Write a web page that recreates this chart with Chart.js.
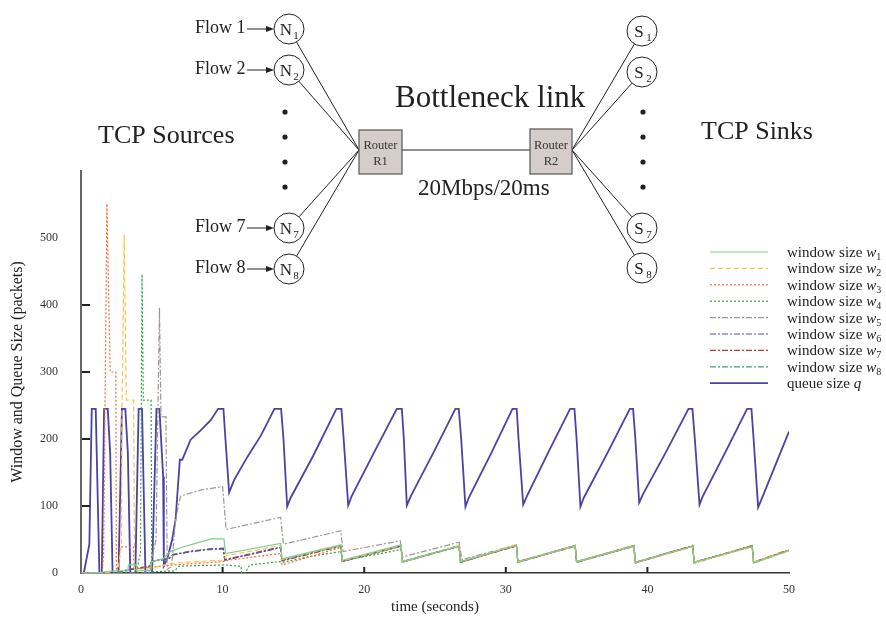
<!DOCTYPE html>
<html>
<head>
<meta charset="utf-8">
<script src="https://cdn.jsdelivr.net/npm/chart.js@4/dist/chart.umd.min.js"></script>
<style>
  html, body { margin: 0; padding: 0; background: #fff; }
  #wrap { width: 886px; height: 618px; }
</style>
</head>
<body>
<div id="wrap"><canvas id="tcpChart" width="886" height="618"></canvas></div>
<script>
// time (s), value (packets)
const windowW1 = [[0,0],[1.4,1],[2.2,3],[3.3,3],[3.35,12],[3.9,12],[3.95,3],[4.9,4],[5.0,17],[5.8,21],[6.3,32],[7.1,38],[8.2,45],[9.2,51],[10.1,51],[10.2,29],[14.1,44],[14.2,21],[18.35,42],[18.45,19],[22.6,42],[22.7,17],[26.7,40],[26.8,17],[30.75,41],[30.85,16],[34.9,41],[35.0,17],[39.05,40],[39.15,16],[43.2,40],[43.3,16],[47.4,40],[47.5,15],[50,33]];
const windowW2 = [[0,0],[2.0,1],[2.6,4],[2.85,40],[2.9,250],[3.05,505],[3.2,258],[3.72,258],[3.78,4],[4.6,5],[5.5,10],[6.3,14],[8.0,17],[10.0,19],[10.3,26],[14.1,41],[14.2,20],[18.35,41],[18.45,18],[22.6,41],[22.7,16],[26.7,41],[26.8,17],[30.75,42],[30.85,17],[34.9,40],[35.0,16],[39.05,41],[39.15,16],[43.2,39],[43.3,15],[47.4,39],[47.5,16],[50,34]];
const windowW3 = [[0,0],[1.5,0],[1.6,30],[1.83,551],[2.06,300],[2.46,300],[2.5,4],[2.7,12],[2.75,39],[3.7,39],[3.75,5],[4.5,8],[5.5,10],[6.5,12],[8.0,14],[10.0,17],[10.4,19],[14.1,29],[14.2,12],[18.35,38],[18.45,18],[22.6,40],[22.7,17],[26.7,40],[26.8,16],[30.75,41],[30.85,16],[34.9,40],[35.0,16],[39.05,40],[39.15,15],[43.2,40],[43.3,16],[47.4,39],[47.5,16],[50,35]];
const windowW4 = [[0,0],[3.9,0],[4.2,30],[4.31,446],[4.4,258],[4.95,258],[5.0,2],[6.6,3],[6.9,10],[8.0,11],[10.1,12],[11.3,10],[11.35,0],[11.6,0],[11.9,12],[14.1,17],[14.3,16],[16.0,24],[18.35,32],[18.45,18],[22.6,35],[22.7,16],[26.7,40],[26.8,16],[30.75,41],[30.85,17],[34.9,41],[35.0,16],[39.05,41],[39.15,16],[43.2,40],[43.3,15],[47.4,40],[47.5,15],[50,34]];
const windowW5 = [[0,0],[4.8,0],[5.3,50],[5.54,396],[5.65,233],[6.0,233],[6.09,5],[6.4,10],[6.68,80],[7.03,115],[8.5,124],[10.0,129],[10.25,65],[14.1,83],[14.3,43],[18.35,63],[18.5,32],[22.55,48],[22.7,24],[26.7,46],[26.9,20],[30.75,42],[30.85,17],[34.9,41],[35.0,17],[39.05,41],[39.15,16],[43.2,40],[43.3,16],[47.4,40],[47.5,16],[50,34]];
const windowW6 = [[0,0],[2.3,0],[3.5,5],[4.8,9],[5.0,17],[6.2,21],[6.5,27],[7.8,32],[9.2,36],[10.05,36],[10.15,19],[14.1,38],[14.2,19],[18.35,41],[18.45,17],[22.6,40],[22.7,16],[26.7,40],[26.8,16],[30.75,41],[30.85,16],[34.9,40],[35.0,16],[39.05,40],[39.15,15],[43.2,40],[43.3,16],[47.4,40],[47.5,15],[50,34]];
const windowW7 = [[0,0],[2.4,0],[3.6,6],[4.9,10],[5.1,18],[6.2,22],[6.5,27],[7.8,33],[9.2,36],[10.05,37],[10.15,20],[14.1,39],[14.2,18],[18.35,40],[18.45,17],[22.6,41],[22.7,17],[26.7,40],[26.8,17],[30.75,40],[30.85,16],[34.9,41],[35.0,17],[39.05,41],[39.15,16],[43.2,41],[43.3,16],[47.4,41],[47.5,16],[50,35]];
const windowW8 = [[0,0],[2.3,0],[3.5,6],[4.8,10],[5.0,18],[6.2,21],[6.5,28],[7.8,32],[9.2,35],[10.05,36],[10.15,19],[14.1,38],[14.2,19],[18.35,40],[18.45,18],[22.6,40],[22.7,17],[26.7,41],[26.8,16],[30.75,41],[30.85,17],[34.9,40],[35.0,16],[39.05,40],[39.15,16],[43.2,40],[43.3,15],[47.4,40],[47.5,16],[50,34]];
const queueSize = [[0,0],[0.2,0],[0.59,43],[0.76,245],[1.04,245],[1.30,0],[1.47,0],[1.63,245],[1.89,245],[2.06,179],[2.23,0],[2.65,0],[2.89,245],[3.13,245],[3.31,179],[3.48,0],[3.84,0],[4.07,245],[4.31,245],[4.55,0],[5.02,0],[5.33,245],[5.54,245],[5.80,144],[5.85,11],[6.09,21],[6.44,50],[6.68,80],[6.98,169],[7.15,169],[7.74,199],[8.45,213],[9.16,228],[9.68,245],[10.06,245],[10.2,200],[10.46,120],[10.82,139],[11.77,174],[12.7,205],[13.66,245],[14.13,245],[14.3,200],[14.56,99],[14.8,112],[16.4,175],[18.04,245],[18.39,245],[18.55,200],[18.87,101],[19.1,114],[20.7,180],[22.30,245],[22.66,245],[22.8,200],[23.01,101],[23.3,115],[24.9,180],[26.44,245],[26.68,245],[26.85,200],[27.15,99],[27.4,113],[29.0,180],[30.47,245],[30.77,245],[30.9,200],[31.23,102],[31.5,115],[33.0,180],[34.54,245],[34.85,245],[35.0,200],[35.27,99],[35.5,112],[37.2,180],[38.76,245],[38.99,245],[39.15,200],[39.42,105],[39.7,118],[41.3,180],[42.9,245],[43.18,245],[43.35,200],[43.68,102],[43.9,114],[45.5,180],[47.04,245],[47.35,245],[47.5,200],[47.82,98],[48.1,112],[50,211]];

const flowIds = ['1', '2', '3', '4', '5', '6', '7', '8'];
const yTickValues = [0, 100, 200, 300, 400, 500];

const serif = '"Liberation Serif", "Times New Roman", serif';
const ink = '#222';

function toXY(arr) {
    return arr.map(p => ({ x: p[0], y: p[1] }));
}

function winSet(id, data, color, dash) {
    return {
        label: 'window size w' + id,
        legendText: 'window size ', legendVar: 'w', legendSub: id,
        data: toXY(data),
        borderColor: color,
        borderDash: dash,
        borderWidth: 1.2
    };
}

const datasets = [
    winSet(flowIds[0], windowW1, '#7fcf8c', []),
    winSet(flowIds[1], windowW2, '#ffc24f', [5, 3]),
    winSet(flowIds[2], windowW3, '#ff6a2e', [2, 2]),
    winSet(flowIds[3], windowW4, '#2da43a', [2, 2]),
    winSet(flowIds[4], windowW5, '#a29590', [6, 2, 2, 2]),
    winSet(flowIds[5], windowW6, '#5252ae', [6, 2, 2, 2]),
    winSet(flowIds[6], windowW7, '#b5402c', [6, 2, 2, 2]),
    winSet(flowIds[7], windowW8, '#3aa489', [6, 2, 2, 2]),
    {
        label: 'queue size q',
        legendText: 'queue size ', legendVar: 'q', legendSub: '',
        data: toXY(queueSize),
        borderColor: '#4a42a6',
        borderDash: [],
        borderWidth: 1.8
    }
];

// small inside tick marks like the original plot
const tickMarks = {
    id: 'tickMarks',
    afterDraw(chart) {
        const ctx = chart.ctx;
        const xs = chart.scales.x, ys = chart.scales.y;
        ctx.save();
        ctx.strokeStyle = '#222';
        ctx.lineWidth = 2;
        xs.ticks.forEach(t => {
            if (t.value <= xs.min || t.value >= xs.max) return;
            const px = xs.getPixelForValue(t.value);
            ctx.beginPath();
            ctx.moveTo(px, ys.bottom);
            ctx.lineTo(px, ys.bottom - 6);
            ctx.stroke();
        });
        ys.ticks.forEach(t => {
            if (t.value <= 0 || t.value >= 500) return;
            const py = ys.getPixelForValue(t.value);
            ctx.beginPath();
            ctx.moveTo(xs.left + 1, py);
            ctx.lineTo(xs.left + 9, py);
            ctx.stroke();
        });
        ctx.restore();
    }
};

// legend at the right, partly outside the plot
const sideLegend = {
    id: 'sideLegend',
    afterDraw(chart) {
        const ctx = chart.ctx;
        ctx.save();
        chart.data.datasets.forEach((ds, i) => {
            const y = 252 + i * 16.4;
            ctx.strokeStyle = ds.borderColor;
            ctx.lineWidth = ds.borderWidth;
            ctx.setLineDash(ds.borderDash);
            ctx.beginPath();
            ctx.moveTo(710, y);
            ctx.lineTo(768, y);
            ctx.stroke();
            ctx.setLineDash([]);

            ctx.fillStyle = ink;
            ctx.textBaseline = 'alphabetic';
            ctx.textAlign = 'left';
            ctx.font = '15px ' + serif;
            let x = 787;
            ctx.fillText(ds.legendText, x, y + 5);
            x += ctx.measureText(ds.legendText).width;
            ctx.font = 'italic 15px ' + serif;
            ctx.fillText(ds.legendVar, x, y + 5);
            x += ctx.measureText(ds.legendVar).width;
            if (ds.legendSub) {
                ctx.font = '10px ' + serif;
                ctx.fillText(ds.legendSub, x, y + 8);
            }
        });
        ctx.restore();
    }
};

// dumbbell network sketch drawn over the top of the figure
const diagram = {
    id: 'diagram',
    afterDraw(chart) {
        const ctx = chart.ctx;
        ctx.save();
        ctx.strokeStyle = ink;
        ctx.fillStyle = ink;
        ctx.lineWidth = 1;

        const r1 = { x: 359, y: 130, w: 43, h: 44 };
        const r2 = { x: 530, y: 129, w: 42, h: 45 };
        const r1In = [r1.x, 150];
        const r2Out = [r2.x + r2.w, 150];

        function edge(cx, cy, rx, ry, tx, ty) {
            const a = Math.atan2(ty - cy, tx - cx);
            return [cx + rx * Math.cos(a), cy + ry * Math.sin(a)];
        }

        function node(cx, cy, letter, sub) {
            ctx.beginPath();
            ctx.ellipse(cx, cy, 15, 15, 0, 0, Math.PI * 2);
            ctx.stroke();
            ctx.font = '17px ' + serif;
            ctx.textAlign = 'center';
            ctx.textBaseline = 'alphabetic';
            ctx.fillText(letter, cx - 3, cy + 6);
            ctx.font = '11px ' + serif;
            ctx.fillText(sub, cx + 7, cy + 10);
        }

        // sources
        const srcs = [[29, '1'], [70, '2'], [228, '7'], [269, '8']];
        srcs.forEach(([cy, id]) => {
            const cx = 289;
            node(cx, cy, 'N', id);
            const e = edge(cx, cy, 15, 15, r1In[0], r1In[1]);
            ctx.beginPath();
            ctx.moveTo(e[0], e[1]);
            ctx.lineTo(r1In[0], r1In[1]);
            ctx.stroke();
            // flow label and arrow
            ctx.font = '18px ' + serif;
            ctx.textAlign = 'left';
            ctx.fillText('Flow ' + id, 195, cy + 4);
            ctx.beginPath();
            ctx.moveTo(247, cy);
            ctx.lineTo(268, cy);
            ctx.stroke();
            ctx.beginPath();
            ctx.moveTo(274, cy);
            ctx.lineTo(266, cy - 3);
            ctx.lineTo(266, cy + 3);
            ctx.closePath();
            ctx.fill();
        });

        // sinks
        const sinks = [[31, '1'], [72, '2'], [228, '7'], [268, '8']];
        sinks.forEach(([cy, id]) => {
            const cx = 642;
            node(cx, cy, 'S', id);
            const e = edge(cx, cy, 15, 15, r2Out[0], r2Out[1]);
            ctx.beginPath();
            ctx.moveTo(r2Out[0], r2Out[1]);
            ctx.lineTo(e[0], e[1]);
            ctx.stroke();
        });

        // vertical dots
        [112, 137, 162, 187].forEach(y => {
            ctx.beginPath();
            ctx.arc(285, y, 2.6, 0, Math.PI * 2);
            ctx.fill();
            ctx.beginPath();
            ctx.arc(643, y, 2.6, 0, Math.PI * 2);
            ctx.fill();
        });

        // bottleneck link
        ctx.beginPath();
        ctx.moveTo(r1.x + r1.w, 150);
        ctx.lineTo(r2.x, 150);
        ctx.stroke();

        // routers
        [[r1, 'R1'], [r2, 'R2']].forEach(([r, name]) => {
            ctx.fillStyle = '#d5cdc9';
            ctx.fillRect(r.x, r.y, r.w, r.h);
            ctx.strokeStyle = '#555';
            ctx.lineWidth = 1.2;
            ctx.strokeRect(r.x, r.y, r.w, r.h);
            ctx.fillStyle = '#333';
            ctx.font = '12.5px ' + serif;
            ctx.textAlign = 'center';
            ctx.fillText('Router', r.x + r.w / 2, 149);
            ctx.fillText(name, r.x + r.w / 2, 165);
        });

        ctx.fillStyle = ink;
        ctx.textAlign = 'left';
        ctx.font = '26px ' + serif;
        ctx.fillText('TCP Sources', 98, 143);
        ctx.fillText('TCP Sinks', 701, 139);
        ctx.font = '31px ' + serif;
        ctx.fillText('Bottleneck link', 395, 107);
        ctx.font = '23px ' + serif;
        ctx.fillText('20Mbps/20ms', 418, 195);
        ctx.restore();
    }
};

document.addEventListener('DOMContentLoaded', function() {
    const ctx = document.getElementById('tcpChart').getContext('2d');
    new Chart(ctx, {
        type: 'line',
        data: { datasets: datasets },
        options: {
            responsive: false,
            animation: false,
            devicePixelRatio: 1,
            layout: { padding: { top: 171, right: 97, bottom: 0, left: 0 } },
            elements: {
                point: { radius: 0 },
                line: { tension: 0 }
            },
            plugins: {
                legend: { display: false },
                tooltip: { enabled: false }
            },
            scales: {
                x: {
                    type: 'linear',
                    min: 0,
                    max: 50,
                    afterFit: s => { s.height = 45; },
                    grid: { display: false, drawTicks: false },
                    border: { display: true, color: '#333', width: 1.5 },
                    ticks: {
                        stepSize: 10,
                        padding: 10,
                        color: '#333',
                        font: { family: serif, size: 12 }
                    },
                    title: {
                        display: true,
                        text: 'time (seconds)',
                        color: '#222',
                        padding: { top: 0, bottom: 1.5 },
                        font: { family: serif, size: 15 }
                    }
                },
                y: {
                    min: 0,
                    max: 600,
                    afterFit: s => { s.width = 81; },
                    afterBuildTicks: s => { s.ticks = yTickValues.map(v => ({ value: v })); },
                    grid: { display: false, drawTicks: false },
                    border: { display: true, color: '#666', width: 2 },
                    ticks: {
                        padding: 23,
                        color: '#333',
                        font: { family: serif, size: 12 }
                    },
                    title: {
                        display: true,
                        text: 'Window and Queue Size (packets)',
                        color: '#222',
                        padding: { top: 8, bottom: 0 },
                        font: { family: serif, size: 16 }
                    }
                }
            }
        },
        plugins: [tickMarks, sideLegend, diagram]
    });
});
</script>
</body>
</html>
